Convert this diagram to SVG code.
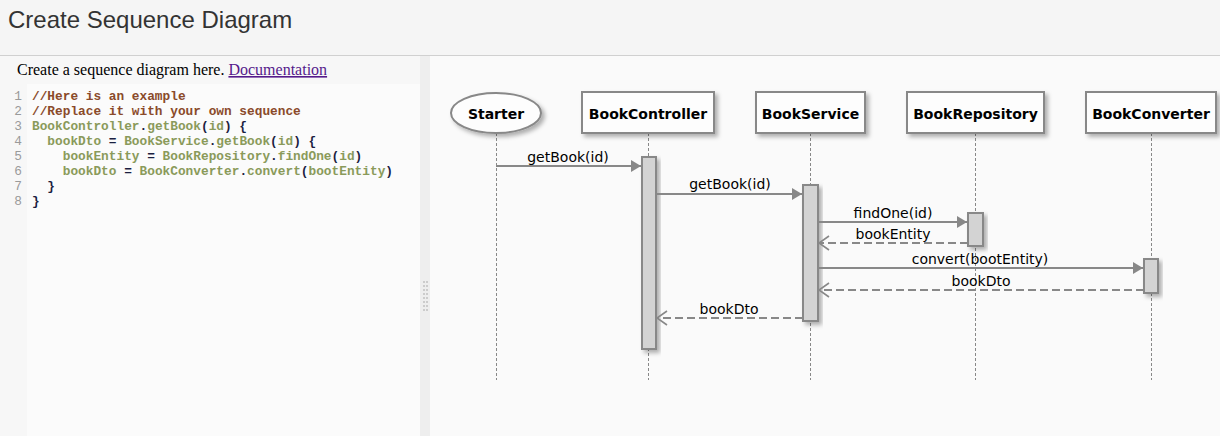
<svg xmlns="http://www.w3.org/2000/svg" width="1220" height="436" viewBox="0 0 1220 436">
<style>
.title{font-family:"Liberation Sans",Arial,sans-serif;font-size:24px;fill:#333}
.intro{font-family:"Liberation Serif","Times New Roman",serif;font-size:16px;fill:#000}
.link{fill:#551a8b;text-decoration:underline}
.code{font-family:"Liberation Mono","DejaVu Sans Mono",monospace;font-size:12.8px;font-weight:bold;white-space:pre}
.ln{fill:#9a9a9a;font-weight:normal}
.cm{fill:#8a4a2a}
.id{fill:#8a9a5a}
.pn{fill:#1a2040}
.box{fill:#fdfdfd;stroke:#888;stroke-width:2}
.pname{font-family:"DejaVu Sans",Verdana,sans-serif;font-size:14px;font-weight:bold;fill:#000;text-anchor:middle}
.life{stroke:#888;stroke-width:1;stroke-dasharray:3,2;fill:none}
.act{fill:#d3d3d3;stroke:#888;stroke-width:2}
.msg{stroke:#888;stroke-width:2;fill:none}
.ret{stroke:#888;stroke-width:2;fill:none;stroke-dasharray:8,4}
.lbl{font-family:"DejaVu Sans",Verdana,sans-serif;font-size:14px;fill:#000;text-anchor:middle}
</style>
<defs>
<filter id="sh" x="-20%" y="-20%" width="150%" height="150%">
<feDropShadow dx="3" dy="3" stdDeviation="2" flood-color="#000" flood-opacity="0.3"/>
</filter>
<marker id="fill" viewBox="0 0 10 12" refX="10" refY="6" markerWidth="10" markerHeight="12" markerUnits="userSpaceOnUse" orient="auto">
<path d="M0,0 L10,6 L0,12 Z" fill="#888"/>
</marker>
<marker id="open" viewBox="0 0 12 16" refX="11" refY="8" markerWidth="12" markerHeight="16" markerUnits="userSpaceOnUse" orient="auto">
<path d="M1,1 L11,8 L1,15" fill="none" stroke="#888" stroke-width="1.6"/>
</marker>
</defs>

<rect x="0" y="0" width="1220" height="436" fill="#fafafa"/>
<g id="header">
<rect x="0" y="0" width="1220" height="55" fill="#f5f5f5"/>
<line x1="0" y1="55.5" x2="1220" y2="55.5" stroke="#d0d0d0" stroke-width="1"/>
<text class="title" x="8" y="28">Create Sequence Diagram</text>
</g>

<g id="editor-panel">
<rect x="0" y="56" width="420" height="380" fill="#f7f7f7"/>
<rect x="27" y="84" width="393" height="352" fill="#fbfbfb"/>
<text class="intro" x="17" y="75">Create a sequence diagram here. <tspan class="link">Documentation</tspan></text>
<g>
<text x="22" y="100" text-anchor="end" class="code ln">1</text>
<text x="22" y="115" text-anchor="end" class="code ln">2</text>
<text x="22" y="130" text-anchor="end" class="code ln">3</text>
<text x="22" y="145" text-anchor="end" class="code ln">4</text>
<text x="22" y="160" text-anchor="end" class="code ln">5</text>
<text x="22" y="175" text-anchor="end" class="code ln">6</text>
<text x="22" y="190" text-anchor="end" class="code ln">7</text>
<text x="22" y="205" text-anchor="end" class="code ln">8</text>
<text x="32" y="100" class="code cm">//Here is an example</text>
<text x="32" y="115" class="code cm">//Replace it with your own sequence</text>
<text x="32" y="130" class="code"><tspan class="id">BookController</tspan><tspan class="pn">.</tspan><tspan class="id">getBook</tspan><tspan class="pn">(</tspan><tspan class="id">id</tspan><tspan class="pn">) {</tspan></text>
<text x="32" y="145" class="code" xml:space="preserve"><tspan class="pn">  </tspan><tspan class="id">bookDto</tspan><tspan class="pn"> = </tspan><tspan class="id">BookService</tspan><tspan class="pn">.</tspan><tspan class="id">getBook</tspan><tspan class="pn">(</tspan><tspan class="id">id</tspan><tspan class="pn">) {</tspan></text>
<text x="32" y="160" class="code" xml:space="preserve"><tspan class="pn">    </tspan><tspan class="id">bookEntity</tspan><tspan class="pn"> = </tspan><tspan class="id">BookRepository</tspan><tspan class="pn">.</tspan><tspan class="id">findOne</tspan><tspan class="pn">(</tspan><tspan class="id">id</tspan><tspan class="pn">)</tspan></text>
<text x="32" y="175" class="code" xml:space="preserve"><tspan class="pn">    </tspan><tspan class="id">bookDto</tspan><tspan class="pn"> = </tspan><tspan class="id">BookConverter</tspan><tspan class="pn">.</tspan><tspan class="id">convert</tspan><tspan class="pn">(</tspan><tspan class="id">bootEntity</tspan><tspan class="pn">)</tspan></text>
<text x="32" y="190" class="code pn" xml:space="preserve">  }</text>
<text x="32" y="205" class="code pn">}</text>
</g>
</g>

<g id="splitter">
<rect x="420" y="56" width="10" height="380" fill="#eeeeee"/>
<g fill="#cccccc">
<rect x="423" y="281" width="2" height="2"/><rect x="426" y="281" width="2" height="2"/>
<rect x="423" y="285" width="2" height="2"/><rect x="426" y="285" width="2" height="2"/>
<rect x="423" y="289" width="2" height="2"/><rect x="426" y="289" width="2" height="2"/>
<rect x="423" y="293" width="2" height="2"/><rect x="426" y="293" width="2" height="2"/>
<rect x="423" y="297" width="2" height="2"/><rect x="426" y="297" width="2" height="2"/>
<rect x="423" y="301" width="2" height="2"/><rect x="426" y="301" width="2" height="2"/>
<rect x="423" y="305" width="2" height="2"/><rect x="426" y="305" width="2" height="2"/>
<rect x="423" y="309" width="2" height="2"/><rect x="426" y="309" width="2" height="2"/>
</g>
</g>

<g id="lifelines">
<line class="life" x1="496.5" y1="133" x2="496.5" y2="380"/>
<line class="life" x1="648.5" y1="133" x2="648.5" y2="380"/>
<line class="life" x1="810.5" y1="133" x2="810.5" y2="380"/>
<line class="life" x1="975.5" y1="133" x2="975.5" y2="380"/>
<line class="life" x1="1151.5" y1="133" x2="1151.5" y2="380"/>
</g>

<g id="starter">
<ellipse class="box" cx="496" cy="113" rx="45" ry="20" filter="url(#sh)"/>
<text class="pname" x="496" y="119">Starter</text>
</g>
<g id="bookcontroller">
<rect class="box" x="582" y="92" width="132" height="41" filter="url(#sh)"/>
<text class="pname" x="648" y="119">BookController</text>
</g>
<g id="bookservice">
<rect class="box" x="756" y="92" width="109" height="41" filter="url(#sh)"/>
<text class="pname" x="810.5" y="119">BookService</text>
</g>
<g id="bookrepository">
<rect class="box" x="907" y="92" width="137" height="41" filter="url(#sh)"/>
<text class="pname" x="975.5" y="119">BookRepository</text>
</g>
<g id="bookconverter">
<rect class="box" x="1086" y="92" width="130" height="41" filter="url(#sh)"/>
<text class="pname" x="1151" y="119">BookConverter</text>
</g>

<g id="activations">
<rect class="act" x="642" y="157" width="14" height="192" filter="url(#sh)"/>
<rect class="act" x="803" y="185" width="15" height="136" filter="url(#sh)"/>
<rect class="act" x="968" y="213" width="15" height="33" filter="url(#sh)"/>
<rect class="act" x="1144" y="259" width="14" height="34" filter="url(#sh)"/>
</g>

<g id="connectors">
<line class="msg" x1="496" y1="166" x2="641" y2="166" marker-end="url(#fill)"/>
<text class="lbl" x="568" y="162">getBook(id)</text>
<line class="msg" x1="656" y1="194" x2="802" y2="194" marker-end="url(#fill)"/>
<text class="lbl" x="730" y="189">getBook(id)</text>
<line class="msg" x1="818" y1="222" x2="967" y2="222" marker-end="url(#fill)"/>
<text class="lbl" x="893" y="218">findOne(id)</text>
<line class="ret" x1="968" y1="243" x2="819" y2="243" marker-end="url(#open)"/>
<text class="lbl" x="893" y="239">bookEntity</text>
<line class="msg" x1="818" y1="268" x2="1143" y2="268" marker-end="url(#fill)"/>
<text class="lbl" x="980" y="264">convert(bootEntity)</text>
<line class="ret" x1="1144" y1="290" x2="819" y2="290" marker-end="url(#open)"/>
<text class="lbl" x="981" y="286">bookDto</text>
<line class="ret" x1="803" y1="318" x2="657" y2="318" marker-end="url(#open)"/>
<text class="lbl" x="729" y="314">bookDto</text>
</g>
</svg>
